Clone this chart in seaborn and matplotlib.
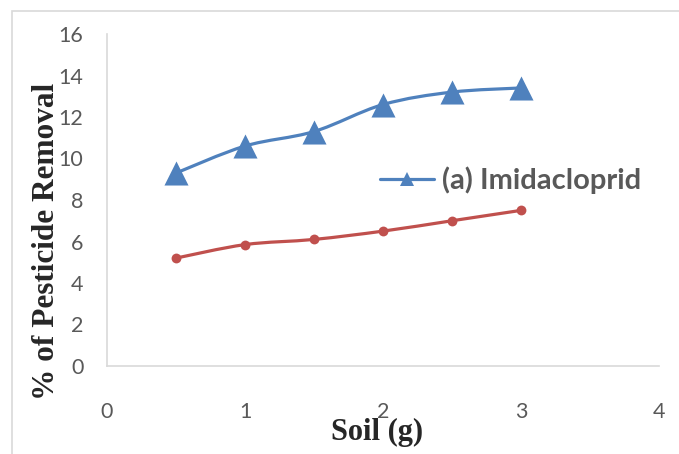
import numpy as np
import pandas as pd
import matplotlib
matplotlib.use("Agg")
import matplotlib.pyplot as plt
from matplotlib.path import Path
from matplotlib.patches import PathPatch, Rectangle
from matplotlib.lines import Line2D
import seaborn as sns

# Soil dose (g) and % pesticide removal for the two series
soil_g = [0.5, 1.0, 1.5, 2.0, 2.5, 3.0]
imidacloprid = [9.3, 10.6, 11.3, 12.6, 13.2, 13.4]
second_series = [5.2, 5.85, 6.1, 6.5, 7.0, 7.5]
x_ticks = [0, 1, 2, 3, 4]
y_ticks = [0, 2, 4, 6, 8, 10, 12, 14, 16]

BLUE = "#4f81bd"
RED = "#c0504d"
GRID = "#d9d9d9"
TEXT = "#595959"


def smooth_path(xs, ys):
    """Cubic Bezier path through the points (spreadsheet-style smoothed line)."""
    pts = np.column_stack([xs, ys]).astype(float)
    n = len(pts)
    verts = [pts[0]]
    codes = [Path.MOVETO]
    for i in range(n - 1):
        p0 = pts[i - 1] if i > 0 else pts[i]
        p1 = pts[i]
        p2 = pts[i + 1]
        p3 = pts[i + 2] if i + 2 < n else pts[i + 1]
        c1 = p1 + (p2 - p0) / 6.0
        c2 = p2 - (p3 - p1) / 6.0
        verts += [c1, c2, p2]
        codes += [Path.CURVE4] * 3
    return Path(verts, codes)


sns.set_theme(style="white")
plt.rcParams["font.family"] = ["Lato", "DejaVu Sans"]

df = pd.DataFrame({"soil": soil_g, "imid": imidacloprid, "other": second_series})

fig = plt.figure(figsize=(6.79, 4.54), dpi=100)
ax = fig.add_axes([107 / 679, 1 - 366 / 454, 552 / 679, 332 / 454])

# outer chart frame
fig.patches.append(Rectangle((12 / 679, -0.05), 1.0, 1 - 11 / 454 + 0.05,
                             transform=fig.transFigure, fill=False,
                             edgecolor=GRID, linewidth=1.2, zorder=0))

for ys, color in [(imidacloprid, BLUE), (second_series, RED)]:
    ax.add_patch(PathPatch(smooth_path(soil_g, ys), facecolor="none",
                           edgecolor=color, linewidth=2.3, zorder=2))

sns.scatterplot(data=df, x="soil", y="imid", marker="^", s=300, color=BLUE,
                edgecolor=BLUE, linewidth=0, ax=ax, zorder=3, legend=False)
sns.scatterplot(data=df, x="soil", y="other", marker="o", s=50, color=RED,
                edgecolor=RED, linewidth=0, ax=ax, zorder=3, legend=False)

ax.set_xlim(0, 4)
ax.set_ylim(0, 16)
ax.set_xticks(x_ticks)
ax.set_yticks(y_ticks)
ax.tick_params(axis="both", length=0, labelsize=15.5, labelcolor=TEXT)
ax.tick_params(axis="x", pad=26)
ax.tick_params(axis="y", pad=17)

for side in ["top", "right"]:
    ax.spines[side].set_visible(False)
for side in ["left", "bottom"]:
    ax.spines[side].set_color(GRID)
    ax.spines[side].set_linewidth(1.2)

ax.set_xlabel("Soil (g)", family="Liberation Serif", fontweight="bold",
              fontsize=22, color="#262626")
ax.set_ylabel("% of Pesticide Removal", family="Liberation Serif",
              fontweight="bold", fontsize=22.5, color="#262626")
ax.xaxis.set_label_coords((377 - 107) / 552, -(418 - 366) / 332)
ax.yaxis.set_label_coords((61 - 107) / 552, (366 - 241) / 332)

handle = Line2D([], [], color=BLUE, linewidth=2.3, marker="^",
                markersize=10.5, markeredgewidth=0)
leg = ax.legend([handle], ["(a) Imidacloprid"], loc="center left",
                bbox_to_anchor=((380 - 107) / 552, (366 - 180) / 332),
                frameon=False, borderpad=0, borderaxespad=0,
                handlelength=1.85, handletextpad=0.28,
                prop={"family": "Lato", "weight": "bold", "size": 21})
for t in leg.get_texts():
    t.set_color(TEXT)

fig.savefig("out.png", dpi=100)
